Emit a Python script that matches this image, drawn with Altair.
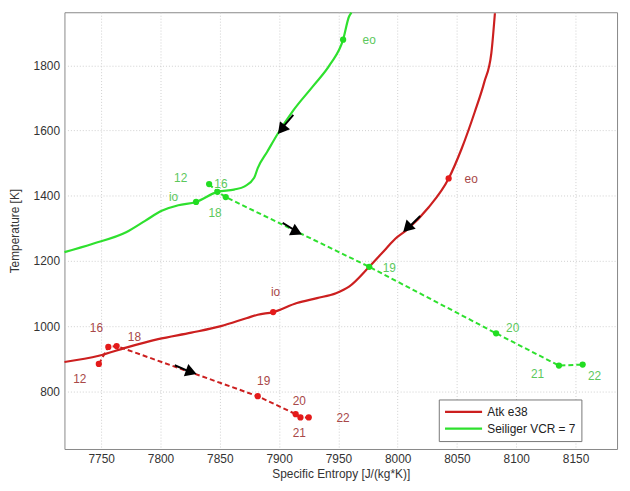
import altair as alt
import pandas as pd

RED = "#cc1f1f"
GREEN = "#2ee02e"
RED_LBL = "#a84848"
GREEN_LBL = "#5cc85c"
RED_MK = "#e41a1a"
GREEN_MK = "#22dd22"

series_names = ["Atk e38", "Seiliger VCR = 7"]

# Solid curves (expansion/combustion path)
atk_x = [7719, 7748, 7771, 7798, 7826, 7851, 7873, 7882, 7895, 7915, 7932, 7948, 7959,
         7976, 7990, 7998, 8007, 8026, 8043, 8054, 8065, 8073, 8079, 8082]
atk_y = [890, 909, 934, 960, 980, 1000, 1025, 1035, 1043, 1071, 1086, 1101, 1121,
         1182, 1237, 1268, 1293, 1364, 1453, 1545, 1657, 1748, 1838, 1960]

sei_x = [7719, 7743, 7771, 7787, 7801, 7815, 7830, 7848, 7862, 7871, 7879, 7882, 7890,
         7899, 7912, 7929, 7943, 7954, 7959, 7961]
sei_y = [1227, 1253, 1288, 1323, 1354, 1371, 1381, 1412, 1419, 1429, 1455, 1485, 1535,
         1591, 1662, 1738, 1803, 1879, 1950, 1962]

# Dashed path: states 12, 16, 18, 19, 20, 21, 22
state_labels = ["12", "16", "18", "19", "20", "21", "22"]
atk_state_x = [7748, 7756, 7763, 7882, 7914, 7918, 7925]
atk_state_y = [884, 936, 939, 785, 730, 720, 720]
sei_state_x = [7841, 7848, 7855, 7976, 8083, 8136, 8156]
sei_state_y = [1436, 1412, 1396, 1182, 978, 879, 882]

# io / eo markers
atk_ioeo_x = [7895, 8043]
atk_ioeo_y = [1043, 1453]
sei_ioeo_x = [7830, 7954]
sei_ioeo_y = [1381, 1879]

# Text labels
atk_text = ["12", "16", "18", "19", "20", "21", "22", "io", "eo"]
atk_text_x = [7732, 7746, 7778, 7887, 7917, 7917, 7954, 7897, 8062]
atk_text_y = [838, 993, 966, 832, 769, 672, 717, 1105, 1450]
sei_text = ["12", "16", "18", "19", "20", "21", "22", "io", "eo"]
sei_text_x = [7817, 7851, 7846, 7993, 8097, 8118, 8166, 7811, 7976]
sei_text_y = [1454, 1436, 1348, 1178, 993, 854, 848, 1396, 1878]

# Direction arrows (tail, tip, head centre, heading in screen degrees)
arrow_tail_x = [7912, 7903, 8019, 7812]
arrow_tail_y = [1648, 1317, 1338, 880]
arrow_tip_x = [7902, 7916, 8009, 7826]
arrow_tip_y = [1605, 1288, 1302, 858]
arrow_head_x = [7902, 7915, 8008, 7826]
arrow_head_y = [1603, 1289, 1301, 859]
arrow_angle = [219, 116, 225, 110]

XDOM = [7719, 8185]
YDOM = [623, 1963]
xscale = alt.Scale(domain=XDOM, nice=False, zero=False)
yscale = alt.Scale(domain=YDOM, nice=False, zero=False)
xax = alt.Axis(values=list(range(7750, 8151, 50)), title="Specific Entropy [J/(kg*K)]",
               format="d")
yax = alt.Axis(values=list(range(800, 1801, 200)), title="Temperature [K]", format="d")

curves = pd.concat([
    pd.DataFrame({"x": atk_x, "y": atk_y, "series": series_names[0], "i": range(len(atk_x))}),
    pd.DataFrame({"x": sei_x, "y": sei_y, "series": series_names[1], "i": range(len(sei_x))}),
])
dashed = pd.concat([
    pd.DataFrame({"x": atk_state_x, "y": atk_state_y, "grp": "a", "col": RED,
                  "i": range(len(atk_state_x))}),
    pd.DataFrame({"x": sei_state_x, "y": sei_state_y, "grp": "s", "col": GREEN,
                  "i": range(len(sei_state_x))}),
])
markers = pd.concat([
    pd.DataFrame({"x": atk_state_x + atk_ioeo_x, "y": atk_state_y + atk_ioeo_y, "col": RED_MK}),
    pd.DataFrame({"x": sei_state_x + sei_ioeo_x, "y": sei_state_y + sei_ioeo_y, "col": GREEN_MK}),
])
texts = pd.concat([
    pd.DataFrame({"x": atk_text_x, "y": atk_text_y, "t": atk_text, "col": RED_LBL}),
    pd.DataFrame({"x": sei_text_x, "y": sei_text_y, "t": sei_text, "col": GREEN_LBL}),
])
arrows = pd.DataFrame({"x": arrow_tail_x, "y": arrow_tail_y, "x2": arrow_tip_x, "y2": arrow_tip_y,
                       "hx": arrow_head_x, "hy": arrow_head_y, "a": arrow_angle})

X = alt.X("x:Q", scale=xscale, axis=xax)
Y = alt.Y("y:Q", scale=yscale, axis=yax)

line_layer = alt.Chart(curves).mark_line(strokeWidth=2.2, interpolate="monotone").encode(
    x=X, y=Y, order="i:Q",
    color=alt.Color("series:N", scale=alt.Scale(domain=series_names, range=[RED, GREEN]),
                    legend=alt.Legend(title=None, orient="none", legendX=378, legendY=391,
                                      symbolType="stroke", symbolSize=1400,
                                      symbolStrokeWidth=2.2, labelFontSize=12,
                                      labelFont="Liberation Sans", labelColor="#222",
                                      strokeColor="#777", fillColor="white", padding=5,
                                      clipHeight=15, rowPadding=2, labelOffset=4)),
)

dash_layer = alt.Chart(dashed).mark_line(strokeWidth=2, strokeDash=[5, 3]).encode(
    x=X, y=Y, order="i:Q", detail="grp:N", color=alt.Color("col:N", scale=None),
)

marker_layer = alt.Chart(markers).mark_point(filled=True, size=40, opacity=1).encode(
    x=X, y=Y, color=alt.Color("col:N", scale=None),
)

text_layer = alt.Chart(texts).mark_text(fontSize=12, font="Liberation Sans").encode(
    x=X, y=Y, text="t:N", color=alt.Color("col:N", scale=None),
)

shaft_layer = alt.Chart(arrows).mark_rule(color="black", strokeWidth=2).encode(
    x=X, y=Y, x2="x2:Q", y2="y2:Q",
)
head_layer = alt.Chart(arrows).mark_point(shape="triangle-up", filled=True, color="black",
                                          size=170, opacity=1).encode(
    x=alt.X("hx:Q", scale=xscale, axis=xax),
    y=alt.Y("hy:Q", scale=yscale, axis=yax),
    angle=alt.Angle("a:Q", scale=None),
)

chart = alt.layer(line_layer, dash_layer, marker_layer, text_layer, shaft_layer, head_layer).properties(
    width=558, height=441,
    autosize=alt.AutoSizeParams(type="none"),
    padding={"left": 57, "top": 2, "right": 5, "bottom": 30},
).configure_view(stroke="#888", strokeWidth=1).configure_axis(
    grid=True, gridColor="#cfcfcf", gridDash=[1, 2], gridWidth=1,
    domain=False, ticks=False, labelPadding=5,
    labelFont="Liberation Sans", labelFontSize=12, labelColor="#333",
    titleFont="Liberation Sans", titleFontSize=12, titleFontWeight="normal", titleColor="#333",
).configure_axisY(titlePadding=12).configure_axisX(titlePadding=4)

chart.save("out.html", embed_options={"renderer": "svg", "actions": False})
